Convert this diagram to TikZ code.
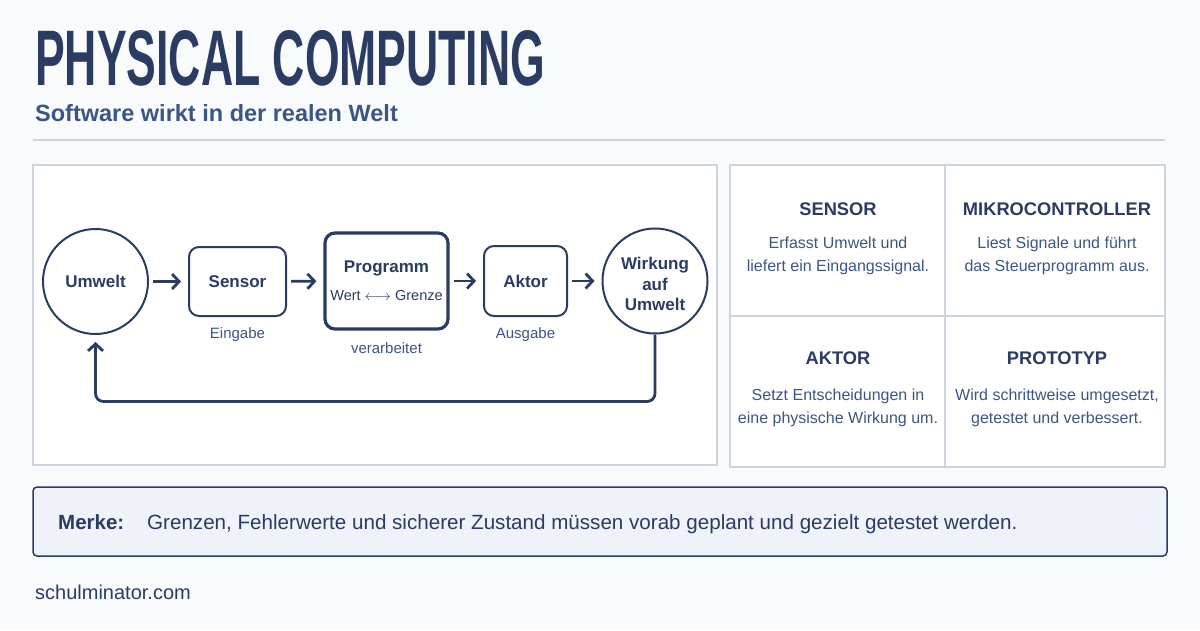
\documentclass[tikz,border=0pt]{standalone}
\usepackage{graphicx}
\usepackage{fontspec}
\setmainfont{Liberation Sans}
\usetikzlibrary{arrows.meta,positioning}
\definecolor{navy}{RGB}{42,60,98}
\definecolor{midblue}{RGB}{60,85,135}
\definecolor{linegray}{RGB}{206,212,223}
\definecolor{pagebg}{RGB}{249,250,252}
\definecolor{notefill}{RGB}{239,242,248}

\begin{document}
\begin{tikzpicture}[x=1pt,y=-1pt,
    flowarrow/.style={-{Straight Barb[length=7pt,width=15pt,line width=2.8pt]}, line width=2.8pt, navy,
                      shorten <=4pt, shorten >=7pt},
    roundnode/.style={circle, draw=navy, line width=2pt, fill=white, minimum size=105pt,
                      inner sep=0pt, align=center, text=navy,
                      font=\fontsize{17}{20.5}\selectfont\bfseries},
    stepbox/.style={rectangle, rounded corners=10pt, draw=navy, line width=2pt, fill=white,
                    minimum width=97pt, minimum height=69pt, text=navy,
                    font=\fontsize{17}{20}\selectfont\bfseries},
    caption/.style={text=midblue, font=\fontsize{15}{18}\selectfont},
    cellhead/.style={text=navy, font=\fontsize{18.3}{22}\selectfont\bfseries},
    celltext/.style={text=midblue, align=center, font=\fontsize{16}{23}\selectfont}
  ]
  \useasboundingbox[fill=pagebg] (0,0) rectangle (1200,630);

  % Title
  \node[anchor=west, inner sep=0pt, text=navy] (title) at (35,58)
    {\resizebox{510pt}{55pt}{\bfseries PHYSICAL COMPUTING}};
  \node[anchor=base west, inner sep=0pt, text=midblue,
        font=\fontsize{23.5}{28}\selectfont\bfseries] (subtitle) at (35,121)
    {Software wirkt in der realen Welt};
  \draw[linegray, line width=1.8pt] (33,140) -- (1165,140);

  % Panels
  \draw[linegray, line width=1.2pt, fill=white] (33,165) rectangle (717,465);
  \draw[linegray, line width=1.2pt, fill=white] (730,165) rectangle (1165,467);
  \draw[linegray, line width=1.2pt] (945,165) -- (945,467);
  \draw[linegray, line width=1.2pt] (730,316) -- (1165,316);

  % Control loop
  \node[roundnode] (umwelt) at (95.5,281.5) {Umwelt};
  \node[stepbox] (sensor) at (237.5,281.5) {Sensor};
  \node[stepbox, line width=3.2pt, minimum width=123pt, minimum height=96pt, align=center]
    (programm) at (386.5,281)
    {Programm\\[8pt]{\fontsize{14.5}{16}\selectfont\mdseries Wert $\longleftrightarrow$ Grenze}};
  \node[stepbox, minimum width=83pt, minimum height=70pt] (aktor) at (525.5,281) {Aktor};
  \node[roundnode] (wirkung) at (655,281)
    {\raisebox{-5pt}[\height][\depth]{\begin{tabular}{@{}c@{}}Wirkung\\auf\\Umwelt\end{tabular}}};

  \draw[flowarrow] (umwelt) -- (sensor);
  \draw[flowarrow] (sensor) -- (programm);
  \draw[flowarrow] (programm) -- (aktor);
  \draw[flowarrow] (aktor) -- (wirkung);
  \draw[flowarrow, shorten <=0pt, rounded corners=8pt]
    (wirkung.south) -- ++(0,67) -| (umwelt.south);

  \node[caption] (eingabe) at (237.5,335) {Eingabe};
  \node[caption] (verarbeitet) at (386.5,348) {verarbeitet};
  \node[caption] (ausgabe) at (525.5,335) {Ausgabe};

  % Glossary cells
  \foreach \cx/\cy/\ty/\head/\txt in {
      838/209/256/SENSOR/{Erfasst Umwelt und\\liefert ein Eingangssignal.},
      1057/209/256/MIKROCONTROLLER/{Liest Signale und führt\\das Steuerprogramm aus.},
      838/358/407.5/AKTOR/{Setzt Entscheidungen in\\eine physische Wirkung um.},
      1057/358/407.5/PROTOTYP/{Wird schrittweise umgesetzt,\\getestet und verbessert.}}{
    \node[cellhead] (h-\head) at (\cx,\cy) {\head};
    \node[celltext] (t-\head) at (\cx,\ty) {\txt};
  }

  % Note
  \draw[navy, line width=1.5pt, fill=notefill, rounded corners=4pt]
    (33,487) rectangle (1167,556);
  \node[anchor=base west, inner sep=0pt, text=navy,
        font=\fontsize{20.5}{24}\selectfont\bfseries] (merke) at (58,529) {Merke:};
  \node[anchor=base west, inner sep=0pt, text=navy,
        font=\fontsize{20.6}{24}\selectfont] (regel) at (147,529)
    {Grenzen, Fehlerwerte und sicherer Zustand müssen vorab geplant und gezielt getestet werden.};

  \node[anchor=base west, inner sep=0pt, text=navy,
        font=\fontsize{20}{24}\selectfont] (web) at (35,599) {schulminator.com};
\end{tikzpicture}
\end{document}
